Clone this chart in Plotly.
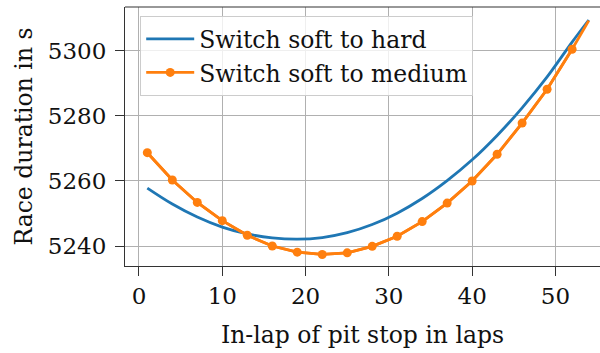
import plotly.graph_objects as go

laps = [1, 4, 7, 10, 13, 16, 19, 22, 25, 28, 31, 34, 37, 40, 43, 46, 49, 52, 54]
hard = [5257.8, 5252.9, 5248.9, 5245.8, 5243.7, 5242.5, 5242.1, 5242.6, 5244.1, 5246.6,
        5250.1, 5254.6, 5260.1, 5266.5, 5274.0, 5282.5, 5292.0, 5302.7, 5309.5]
medium = [5268.7, 5260.3, 5253.4, 5247.8, 5243.3, 5240.0, 5238.1, 5237.4, 5237.9, 5239.9,
          5243.0, 5247.5, 5253.2, 5260.0, 5268.2, 5277.8, 5288.2, 5300.5, 5309.3]
x_ticks = [0, 10, 20, 30, 40, 50]
y_ticks = [5240, 5260, 5280, 5300]

BLUE = "#1f77b4"
ORANGE = "#ff7f0e"
FONT = "'DejaVu Serif', serif"

fig = go.Figure()
fig.add_trace(go.Scatter(x=laps, y=hard, mode="lines", line=dict(color=BLUE, width=2.8, shape="spline"),
                         name="Switch soft to hard"))
fig.add_trace(go.Scatter(x=laps, y=medium, mode="lines", line=dict(color=ORANGE, width=2.8),
                         showlegend=False, hoverinfo="skip"))
fig.add_trace(go.Scatter(x=laps[:-1], y=medium[:-1], mode="lines+markers",
                         line=dict(color=ORANGE, width=2.8), marker=dict(color=ORANGE, size=9),
                         name="Switch soft to medium"))

axis_common = dict(
    showgrid=True, gridcolor="#b0b0b0", gridwidth=1,
    showline=True, linecolor="#333333", linewidth=1.2,
    ticks="outside", ticklen=9, tickcolor="#333333", tickwidth=1.2,
    zeroline=False, tickfont=dict(family=FONT, size=23, color="#111"),
)
fig.update_xaxes(range=[-1.68, 55.35], tickvals=x_ticks, **axis_common,
                 title=dict(text="In-lap of pit stop in laps", font=dict(family=FONT, size=23.5, color="#111"), standoff=18))
fig.update_yaxes(range=[5233.85, 5313.5], tickvals=y_ticks, **axis_common, ticklabelstandoff=4,
                 title=dict(text="Race duration in s", font=dict(family=FONT, size=23.5, color="#111"), standoff=8))

fig.add_shape(type="line", xref="paper", yref="paper", x0=0, x1=1, y0=1, y1=1,
              line=dict(color="#333333", width=1.2))

fig.update_layout(
    width=600, height=353,
    margin=dict(l=125, r=0, t=7, b=87),
    paper_bgcolor="white", plot_bgcolor="white",
    legend=dict(x=0.032, y=0.965, xanchor="left", yanchor="top", itemwidth=48,
                bgcolor="rgba(255,255,255,0.8)", bordercolor="#cccccc", borderwidth=1,
                font=dict(family=FONT, size=23.5, color="#111"), tracegroupgap=0),
)

fig.write_html("out.html")
